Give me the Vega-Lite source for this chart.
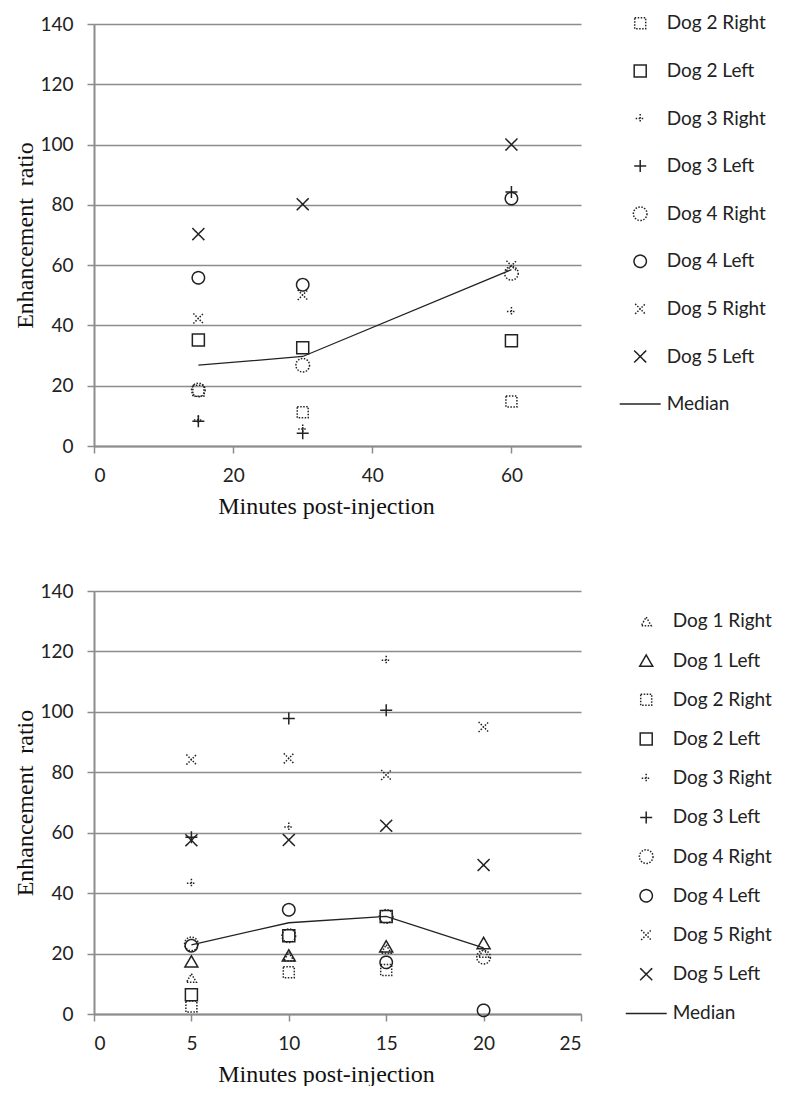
{
  "$schema": "https://vega.github.io/schema/vega-lite/v6.json",
  "background": "white",
  "padding": {"left": 13, "top": 8, "right": 0, "bottom": 0},
  "spacing": 64,
  "config": {
    "view": {"stroke": null},
    "font": "Lato",
    "axis": {
      "domainColor": "#8c8c8c", "domainWidth": 2,
      "tickColor": "#8c8c8c", "tickWidth": 1.5, "tickSize": 7,
      "gridColor": "#8c8c8c", "gridWidth": 1.5,
      "labelFont": "Lato", "labelFontSize": 19, "labelColor": "#222",
      "titleFont": "Liberation Serif", "titleFontSize": 24, "titleFontWeight": "normal", "titleColor": "#111"
    },
    "axisY": {"grid": true, "labelPadding": 14, "titlePadding": 2},
    "axisX": {"grid": false, "labelPadding": 13, "titlePadding": 9, "titleX": 232},
    "legend": {
      "orient": "none", "direction": "vertical", "columns": 1,
      "padding": 0, "labelOffset": 5, "labelFont": "Lato", "labelFontSize": 19, "labelColor": "#222",
      "symbolSize": 1681, "symbolStrokeWidth": 1.5, "symbolStrokeColor": "#222", "symbolFillColor": "transparent", "symbolOpacity": 1,
      "clipHeight": 30
    }
  },
  "datasets": {
    "top": [
      {"minutes": 15, "ratio": 18.3, "series": "Dog 2 Right"},
      {"minutes": 30, "ratio": 11.2, "series": "Dog 2 Right"},
      {"minutes": 60, "ratio": 14.8, "series": "Dog 2 Right"},
      {"minutes": 15, "ratio": 35.2, "series": "Dog 2 Left"},
      {"minutes": 30, "ratio": 32.6, "series": "Dog 2 Left"},
      {"minutes": 60, "ratio": 34.9, "series": "Dog 2 Left"},
      {"minutes": 15, "ratio": 8.6, "series": "Dog 3 Right"},
      {"minutes": 30, "ratio": 5.6, "series": "Dog 3 Right"},
      {"minutes": 60, "ratio": 44.6, "series": "Dog 3 Right"},
      {"minutes": 15, "ratio": 8.2, "series": "Dog 3 Left"},
      {"minutes": 30, "ratio": 4.2, "series": "Dog 3 Left"},
      {"minutes": 60, "ratio": 84.3, "series": "Dog 3 Left"},
      {"minutes": 15, "ratio": 18.6, "series": "Dog 4 Right"},
      {"minutes": 30, "ratio": 26.8, "series": "Dog 4 Right"},
      {"minutes": 60, "ratio": 57.3, "series": "Dog 4 Right"},
      {"minutes": 15, "ratio": 55.8, "series": "Dog 4 Left"},
      {"minutes": 30, "ratio": 53.5, "series": "Dog 4 Left"},
      {"minutes": 60, "ratio": 82.1, "series": "Dog 4 Left"},
      {"minutes": 15, "ratio": 42.3, "series": "Dog 5 Right"},
      {"minutes": 30, "ratio": 50.1, "series": "Dog 5 Right"},
      {"minutes": 60, "ratio": 59.8, "series": "Dog 5 Right"},
      {"minutes": 15, "ratio": 70.3, "series": "Dog 5 Left"},
      {"minutes": 30, "ratio": 80.2, "series": "Dog 5 Left"},
      {"minutes": 60, "ratio": 100.0, "series": "Dog 5 Left"},
      {"minutes": 15, "ratio": 26.8, "series": "Median"},
      {"minutes": 30, "ratio": 29.7, "series": "Median"},
      {"minutes": 60, "ratio": 58.5, "series": "Median"}
    ],
    "bottom": [
      {"minutes": 5, "ratio": 11.9, "series": "Dog 1 Right"},
      {"minutes": 10, "ratio": 19.0, "series": "Dog 1 Right"},
      {"minutes": 15, "ratio": 21.5, "series": "Dog 1 Right"},
      {"minutes": 20, "ratio": 20.2, "series": "Dog 1 Right"},
      {"minutes": 5, "ratio": 17.4, "series": "Dog 1 Left"},
      {"minutes": 10, "ratio": 19.4, "series": "Dog 1 Left"},
      {"minutes": 15, "ratio": 22.4, "series": "Dog 1 Left"},
      {"minutes": 20, "ratio": 23.5, "series": "Dog 1 Left"},
      {"minutes": 5, "ratio": 2.5, "series": "Dog 2 Right"},
      {"minutes": 10, "ratio": 13.8, "series": "Dog 2 Right"},
      {"minutes": 15, "ratio": 14.6, "series": "Dog 2 Right"},
      {"minutes": 5, "ratio": 6.4, "series": "Dog 2 Left"},
      {"minutes": 10, "ratio": 25.9, "series": "Dog 2 Left"},
      {"minutes": 15, "ratio": 32.3, "series": "Dog 2 Left"},
      {"minutes": 5, "ratio": 43.3, "series": "Dog 3 Right"},
      {"minutes": 10, "ratio": 61.9, "series": "Dog 3 Right"},
      {"minutes": 15, "ratio": 117.1, "series": "Dog 3 Right"},
      {"minutes": 5, "ratio": 58.5, "series": "Dog 3 Left"},
      {"minutes": 10, "ratio": 97.8, "series": "Dog 3 Left"},
      {"minutes": 15, "ratio": 100.5, "series": "Dog 3 Left"},
      {"minutes": 5, "ratio": 23.2, "series": "Dog 4 Right"},
      {"minutes": 10, "ratio": 25.9, "series": "Dog 4 Right"},
      {"minutes": 15, "ratio": 32.3, "series": "Dog 4 Right"},
      {"minutes": 20, "ratio": 18.8, "series": "Dog 4 Right"},
      {"minutes": 5, "ratio": 22.6, "series": "Dog 4 Left"},
      {"minutes": 10, "ratio": 34.5, "series": "Dog 4 Left"},
      {"minutes": 15, "ratio": 17.1, "series": "Dog 4 Left"},
      {"minutes": 20, "ratio": 1.2, "series": "Dog 4 Left"},
      {"minutes": 5, "ratio": 84.2, "series": "Dog 5 Right"},
      {"minutes": 10, "ratio": 84.6, "series": "Dog 5 Right"},
      {"minutes": 15, "ratio": 79.1, "series": "Dog 5 Right"},
      {"minutes": 20, "ratio": 95.0, "series": "Dog 5 Right"},
      {"minutes": 5, "ratio": 57.5, "series": "Dog 5 Left"},
      {"minutes": 10, "ratio": 57.6, "series": "Dog 5 Left"},
      {"minutes": 15, "ratio": 62.3, "series": "Dog 5 Left"},
      {"minutes": 20, "ratio": 49.3, "series": "Dog 5 Left"},
      {"minutes": 5, "ratio": 22.9, "series": "Median"},
      {"minutes": 10, "ratio": 30.2, "series": "Median"},
      {"minutes": 15, "ratio": 32.3, "series": "Median"},
      {"minutes": 20, "ratio": 21.9, "series": "Median"}
    ]
  },
  "vconcat": [
    {
      "width": 487, "height": 422,
      "data": {"name": "top"},
      "layer": [
        {
          "transform": [{"filter": "datum.series !== 'Median'"}],
          "mark": {"type": "point", "filled": false, "size": 1681, "stroke": "#222", "strokeWidth": 1.5, "opacity": 1},
          "encoding": {
            "x": {"field": "minutes", "type": "quantitative", "scale": {"domain": [0, 70], "nice": false}, "axis": {"values": [0, 20, 40, 60], "title": "Minutes post-injection"}},
            "y": {"field": "ratio", "type": "quantitative", "scale": {"domain": [0, 140], "nice": false}, "axis": {"values": [0, 20, 40, 60, 80, 100, 120, 140], "title": "Enhancement\u00a0 ratio"}},
            "shape": {
              "field": "series", "type": "nominal",
              "scale": {
                "domain": ["Dog 2 Right", "Dog 2 Left", "Dog 3 Right", "Dog 3 Left", "Dog 4 Right", "Dog 4 Left", "Dog 5 Right", "Dog 5 Left", "Median"],
                "range": [
                  "M-0.268,-0.268L0.268,-0.268L0.268,0.268L-0.268,0.268Z",
                  "M-0.293,-0.293L0.293,-0.293L0.293,0.293L-0.293,0.293Z",
                  "M-0.22,0L0.22,0M0,-0.22L0,0.22",
                  "M-0.293,0L0.293,0M0,-0.293L0,0.293",
                  "M0.332,0C0.332,0.1834,0.1834,0.332,0,0.332C-0.1834,0.332,-0.332,0.1834,-0.332,0C-0.332,-0.1834,-0.1834,-0.332,0,-0.332C0.1834,-0.332,0.332,-0.1834,0.332,0Z",
                  "M0.302,0C0.302,0.1668,0.1668,0.302,0,0.302C-0.1668,0.302,-0.302,0.1668,-0.302,0C-0.302,-0.1668,-0.1668,-0.302,0,-0.302C0.1668,-0.302,0.302,-0.1668,0.302,0Z",
                  "M-0.244,-0.244L0.244,0.244M-0.244,0.244L0.244,-0.244",
                  "M-0.293,-0.293L0.293,0.293M-0.293,0.293L0.293,-0.293",
                  "M-1,0L1,0"
                ]
              },
              "legend": {"title": null, "legendX": 524.7, "legendY": -15.7, "rowPadding": 17.6}
            },
            "strokeDash": {
              "field": "series", "type": "nominal",
              "scale": {
                "domain": ["Dog 2 Right", "Dog 2 Left", "Dog 3 Right", "Dog 3 Left", "Dog 4 Right", "Dog 4 Left", "Dog 5 Right", "Dog 5 Left", "Median"],
                "range": [[1.5, 1.5], [1, 0], [1.5, 1.5], [1, 0], [1.5, 1.5], [1, 0], [1.5, 1.5], [1, 0], [1, 0]]
              },
              "legend": {"title": null, "legendX": 524.7, "legendY": -15.7, "rowPadding": 17.6}
            }
          }
        },
        {
          "transform": [{"filter": "datum.series === 'Median'"}],
          "mark": {"type": "line", "color": "#222", "strokeWidth": 1.3},
          "encoding": {
            "x": {"field": "minutes", "type": "quantitative"},
            "y": {"field": "ratio", "type": "quantitative"}
          }
        }
      ]
    },
    {
      "width": 487, "height": 423,
      "data": {"name": "bottom"},
      "layer": [
        {
          "transform": [{"filter": "datum.series !== 'Median'"}],
          "mark": {"type": "point", "filled": false, "size": 1681, "stroke": "#222", "strokeWidth": 1.5, "opacity": 1},
          "encoding": {
            "x": {"field": "minutes", "type": "quantitative", "scale": {"domain": [0, 25], "nice": false}, "axis": {"values": [0, 5, 10, 15, 20, 25], "title": "Minutes post-injection"}},
            "y": {"field": "ratio", "type": "quantitative", "scale": {"domain": [0, 140], "nice": false}, "axis": {"values": [0, 20, 40, 60, 80, 100, 120, 140], "title": "Enhancement\u00a0 ratio"}},
            "shape": {
              "field": "series", "type": "nominal",
              "scale": {
                "domain": ["Dog 1 Right", "Dog 1 Left", "Dog 2 Right", "Dog 2 Left", "Dog 3 Right", "Dog 3 Left", "Dog 4 Right", "Dog 4 Left", "Dog 5 Right", "Dog 5 Left", "Median"],
                "range": [
                  "M0,-0.211L0.244,0.211L-0.244,0.211Z",
                  "M0,-0.275L0.317,0.275L-0.317,0.275Z",
                  "M-0.268,-0.268L0.268,-0.268L0.268,0.268L-0.268,0.268Z",
                  "M-0.293,-0.293L0.293,-0.293L0.293,0.293L-0.293,0.293Z",
                  "M-0.22,0L0.22,0M0,-0.22L0,0.22",
                  "M-0.293,0L0.293,0M0,-0.293L0,0.293",
                  "M0.332,0C0.332,0.1834,0.1834,0.332,0,0.332C-0.1834,0.332,-0.332,0.1834,-0.332,0C-0.332,-0.1834,-0.1834,-0.332,0,-0.332C0.1834,-0.332,0.332,-0.1834,0.332,0Z",
                  "M0.302,0C0.302,0.1668,0.1668,0.302,0,0.302C-0.1668,0.302,-0.302,0.1668,-0.302,0C-0.302,-0.1668,-0.1668,-0.302,0,-0.302C0.1668,-0.302,0.302,-0.1668,0.302,0Z",
                  "M-0.244,-0.244L0.244,0.244M-0.244,0.244L0.244,-0.244",
                  "M-0.293,-0.293L0.293,0.293M-0.293,0.293L0.293,-0.293",
                  "M-1,0L1,0"
                ]
              },
              "legend": {"title": null, "legendX": 530.7, "legendY": 15.4, "rowPadding": 9.2}
            },
            "strokeDash": {
              "field": "series", "type": "nominal",
              "scale": {
                "domain": ["Dog 1 Right", "Dog 1 Left", "Dog 2 Right", "Dog 2 Left", "Dog 3 Right", "Dog 3 Left", "Dog 4 Right", "Dog 4 Left", "Dog 5 Right", "Dog 5 Left", "Median"],
                "range": [[1.5, 1.5], [1, 0], [1.5, 1.5], [1, 0], [1.5, 1.5], [1, 0], [1.5, 1.5], [1, 0], [1.5, 1.5], [1, 0], [1, 0]]
              },
              "legend": {"title": null, "legendX": 530.7, "legendY": 15.4, "rowPadding": 9.2}
            }
          }
        },
        {
          "transform": [{"filter": "datum.series === 'Median'"}],
          "mark": {"type": "line", "color": "#222", "strokeWidth": 1.3},
          "encoding": {
            "x": {"field": "minutes", "type": "quantitative"},
            "y": {"field": "ratio", "type": "quantitative"}
          }
        }
      ]
    }
  ],
  "resolve": {
    "scale": {"x": "independent", "shape": "independent", "strokeDash": "independent"},
    "legend": {"shape": "independent", "strokeDash": "independent"}
  }
}
